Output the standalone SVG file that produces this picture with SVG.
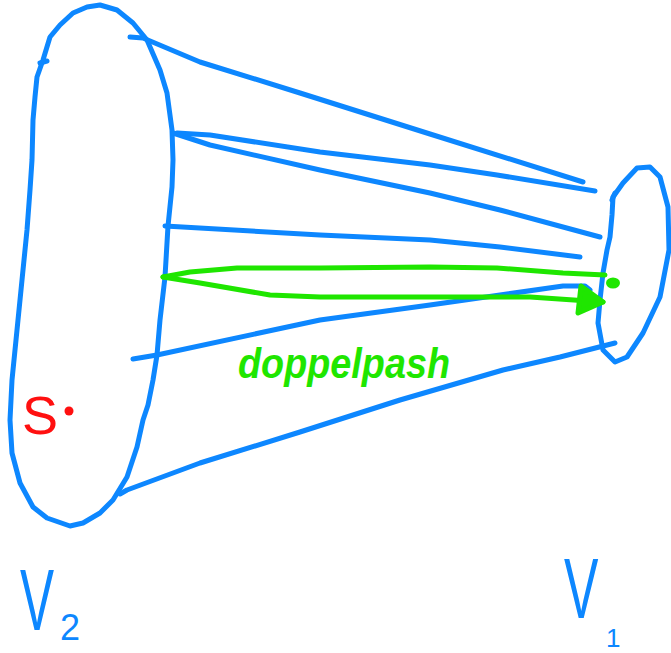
<svg xmlns="http://www.w3.org/2000/svg" width="671" height="653" viewBox="0 0 671 653">
<style>
.b{fill:none;stroke:#0d87ff;stroke-width:5;stroke-linecap:round;stroke-linejoin:round}
.g{fill:none;stroke:#1fe600;stroke-width:5;stroke-linecap:round;stroke-linejoin:round}
.bt{fill:#0d87ff;font-family:"Liberation Sans",Arial,sans-serif}
.gt{fill:#1fe600;font-family:"Liberation Sans",Arial,sans-serif;font-style:italic;font-weight:bold}
</style>
<rect width="671" height="653" fill="#ffffff"/>
<g id="V2">
<path class="b" d="M100,5 L117,10 L133,23 L147,40 L160,70 L167,93 L172,130 L173,160 L172,187 L168,226 L165,277 L160,320 L157,355 L153,380 L148,405 L143,420 L137,447 L127,477 L113,500 L100,513 L83,523 L70,526 L47,518 L33,507 L20,483 L12,453 L10,420 L12,380 L17,330 L22,280 L27,230 L30,190 L32,160 L33,120 L35,97 L37,77 L43,60 L50,37 L60,25 L73,13 L87,7 Z"/>
<path class="b" d="M40,63 L47,61"/>
<text class="bt" transform="translate(20,630) scale(0.58,1)" font-size="88">V</text>
<text class="bt" x="60" y="640" font-size="36">2</text>
</g>
<g id="S">
<text x="22" y="434" font-size="54" fill="#ff1010" font-family="'Liberation Sans',Arial,sans-serif">S</text>
<circle cx="69" cy="411" r="4.5" fill="#ff1010"/>
</g>
<g id="V1">
<path class="b" d="M650,167 L660,177 L668,207 L669,250 L660,297 L643,333 L627,357 L615,362 L603,350 L598,323 L600,300 L603,273 L607,250 L610,237 L612,215 L613,197 L623,183 L637,168 Z"/>
<path class="b" d="M612,200 L615,193"/>
<text class="bt" transform="translate(564,618) scale(0.6,1)" font-size="86">V</text>
<text class="bt" x="606" y="647" font-size="26">1</text>
</g>
<g id="connectors">
<path class="b" d="M130,37 L143,38 L200,62 L300,93 L430,134 L583,182"/>
<path class="b" d="M177,133 L210,135 L320,152 L430,165 L497,175 L595,191"/>
<path class="b" d="M173,133 L210,145 L320,170 L430,193 L500,210 L600,237"/>
<path class="b" d="M165,226 L320,235 L430,240 L500,247 L580,257"/>
<path class="b" d="M133,359 L157,355 L320,320 L430,305 L500,295 L563,286 L585,286 L590,290"/>
<path class="b" d="M120,494 L127,490 L200,463 L300,432 L400,400 L503,370 L560,357 L615,343"/>
</g>
<g id="doppelpath">
<path class="g" d="M163,277 L190,272 L237,268 L320,268 L430,267 L497,268 L563,273 L605,275"/>
<path class="g" d="M163,277 L200,283 L270,295 L320,297 L430,297 L530,297 L603,302"/>
<polygon points="581,286 603,302 578,313" fill="#1fe600" stroke="#1fe600" stroke-width="5" stroke-linejoin="round"/>
<ellipse cx="613" cy="283" rx="7" ry="5.5" fill="#1fe600"/>
<text class="gt" x="238" y="378" font-size="42" textLength="212" lengthAdjust="spacingAndGlyphs">doppelpash</text>
</g>
</svg>
